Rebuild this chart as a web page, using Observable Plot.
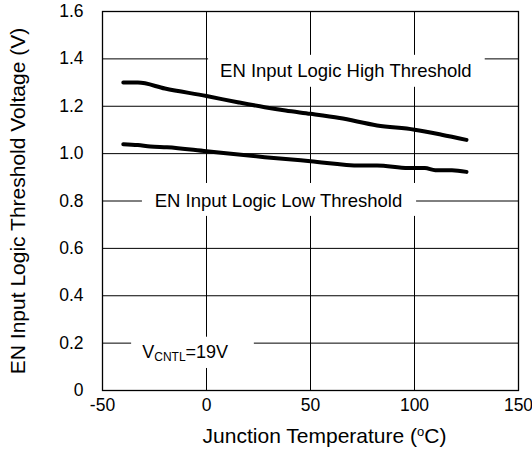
<!DOCTYPE html>
<html>
<head>
<meta charset="utf-8">
<script src="https://cdn.jsdelivr.net/npm/d3@7"></script>
<script src="https://cdn.jsdelivr.net/npm/@observablehq/plot@0.6"></script>
<style>
  html, body { margin: 0; padding: 0; background: #fff; }
  #chart svg { display: block; font-family: "Liberation Sans", Arial, sans-serif; }
</style>
</head>
<body>
<div id="chart"></div>
<script>
// ---- data ----
const highTemp = [-40, -33, -20, 0, 15, 28, 38, 50, 64, 82, 100, 113, 125];
const highVolt = [1.300, 1.300, 1.275, 1.243, 1.217, 1.196, 1.182, 1.168, 1.150, 1.119, 1.101, 1.080, 1.058];
const lowTemp = [-40, -33, -27, -19, 0, 28, 50, 74, 82, 97, 105, 110, 118, 125];
const lowVolt = [1.040, 1.036, 1.030, 1.027, 1.010, 0.985, 0.968, 0.950, 0.950, 0.939, 0.939, 0.930, 0.930, 0.923];
const xTicks = [-50, 0, 50, 100, 150];
const yTicks = [0, 0.2, 0.4, 0.6, 0.8, 1.0, 1.2, 1.4, 1.6];
const xTitle = "Junction Temperature (oC)";
const yTitle = "EN Input Logic Threshold Voltage (V)";
const labelText = ["EN Input Logic High Threshold", "EN Input Logic Low Threshold", "VCNTL=19V"];
const labelX = [67, 34.6, -30.9];
const labelY = [1.347, 0.80, 0.163];
const boxX1 = [1, -30.8, -36];
const boxX2 = [134, 101, 23];
const boxY1 = [1.28, 0.735, 0.093];
const boxY2 = [1.415, 0.874, 0.225];

const high = highTemp.map((t, i) => ({t, v: highVolt[i]}));
const low = lowTemp.map((t, i) => ({t, v: lowVolt[i]}));
const boxes = boxX1.map((x1, i) => ({x1, x2: boxX2[i], y1: boxY1[i], y2: boxY2[i]}));
const labels = labelText.map((text, i) => ({text, x: labelX[i], y: labelY[i]}));

const svg = Plot.plot({
  width: 532,
  height: 459,
  marginLeft: 102,
  marginRight: 14,
  marginTop: 11,
  marginBottom: 69,
  style: {fontFamily: "'Liberation Sans', Arial, sans-serif", background: "#fff"},
  x: {domain: [-50, 150], ticks: xTicks, tickSize: 0, tickPadding: 8, label: null},
  y: {domain: [0, 1.6], ticks: yTicks, tickSize: 0, tickPadding: 19, label: null,
      tickFormat: d => d === 0 ? "0" : d.toFixed(1)},
  marks: [
    Plot.gridX(xTicks.filter(d => d > -50 && d < 150), {stroke: "#000", strokeOpacity: 1, strokeWidth: 1}),
    Plot.gridY(yTicks.filter(d => d > 0 && d < 1.6), {stroke: "#000", strokeOpacity: 1, strokeWidth: 1}),
    Plot.rect(boxes, {x1: "x1", x2: "x2", y1: "y1", y2: "y2", fill: "#fff"}),
    Plot.line(high, {x: "t", y: "v", stroke: "#000", strokeWidth: 4, strokeLinecap: "round", strokeLinejoin: "round", curve: "monotone-x"}),
    Plot.line(low, {x: "t", y: "v", stroke: "#000", strokeWidth: 4, strokeLinecap: "round", strokeLinejoin: "round", curve: "monotone-x"}),
    Plot.text(labels.slice(0, 2), {x: "x", y: "y", text: "text", fontSize: 18.5, fill: "#000", textAnchor: "middle", lineAnchor: "middle"}),
    Plot.text(labels.slice(2), {x: "x", y: "y", text: "text", fontSize: 18, fill: "#000", textAnchor: "start", lineAnchor: "middle"}),
    Plot.axisX({ticks: xTicks, tickSize: 0, tickPadding: 8, fontSize: 17.5, label: null, tickFormat: d => String(d)}),
    Plot.axisY({ticks: yTicks, tickSize: 0, tickPadding: 19, fontSize: 17.5, label: null,
      tickFormat: d => d === 0 ? "0" : d.toFixed(1)}),
    Plot.text([xTitle], {frameAnchor: "bottom", dx: 14, dy: 46, fontSize: 21, fill: "#000", textAnchor: "middle", lineAnchor: "middle"}),
    Plot.text([yTitle], {frameAnchor: "left", dx: -84, rotate: -90, fontSize: 21, fill: "#000", textAnchor: "middle", lineAnchor: "middle"}),
    Plot.frame({stroke: "#000", strokeWidth: 1.3})
  ]
});

// superscript / subscript formatting
d3.select(svg).selectAll("text").each(function () {
  const t = this.textContent;
  if (t === xTitle) {
    this.innerHTML = 'Junction Temperature (<tspan font-size="13" dy="-7">o</tspan><tspan dy="7">C)</tspan>';
  } else if (t === labelText[2]) {
    this.innerHTML = 'V<tspan font-size="12" dy="3">CNTL</tspan><tspan dy="-3">=19V</tspan>';
  }
});
d3.select(svg).selectAll("g[aria-label='y-axis tick label'] text, g[aria-label='x-axis tick label'] text").attr("fill", "#000");

document.getElementById("chart").appendChild(svg);
</script>
</body>
</html>
